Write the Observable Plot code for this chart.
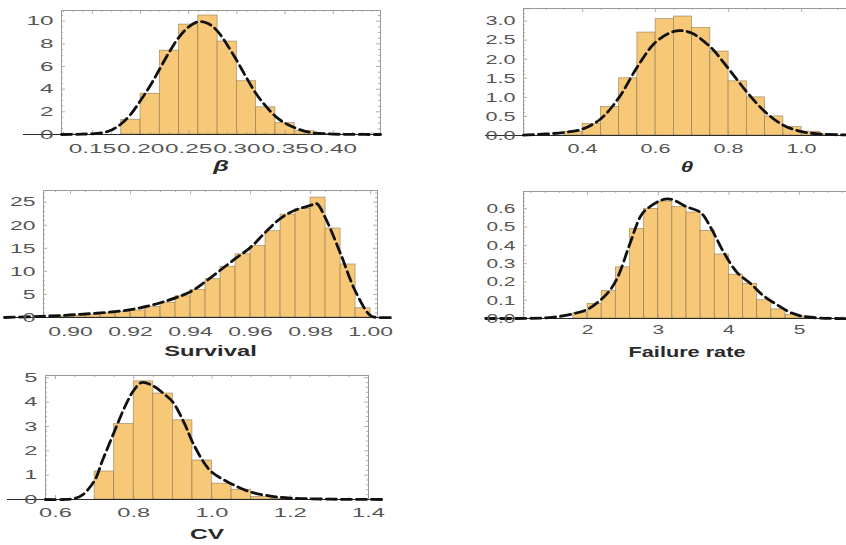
<!DOCTYPE html>
<html><head><meta charset="utf-8">
<script src="https://cdn.jsdelivr.net/npm/d3@7"></script>
<script src="https://cdn.jsdelivr.net/npm/@observablehq/plot@0.6"></script>
<style>
html,body{margin:0;padding:0;background:#fff;overflow:hidden;width:846px;height:545px}
#chart{position:relative;width:846px;height:545px;overflow:hidden}
.panel{position:absolute}
.panel svg{max-width:none!important;overflow:visible}
</style></head><body><div id="chart"></div>
<script>
// ---------- β ----------
const betaBinStart = [0.18,0.20,0.22,0.24,0.26,0.28,0.30,0.32,0.34,0.36,0.38];
const betaDensity  = [1.3,3.6,7.4,9.7,10.5,8.2,4.7,2.4,1.0,0.3,0.05];
const betaBinWidth = 0.02;
const betaCurveX = [0.118,0.14,0.16,0.17,0.18,0.19,0.20,0.21,0.22,0.23,0.24,0.25,0.26,0.27,0.28,0.29,0.30,0.31,0.32,0.33,0.34,0.35,0.36,0.37,0.38,0.40,0.42,0.449];
const betaCurveY = [0.0,0.03,0.15,0.4,0.95,1.8,3.0,4.3,5.8,7.3,8.6,9.5,9.95,9.8,9.1,7.9,6.5,5.0,3.6,2.5,1.6,1.0,0.6,0.3,0.15,0.04,0.01,0.0];
const betaXTicks = [0.15,0.20,0.25,0.30,0.35,0.40];
const betaYTicks = [0,2,4,6,8,10];

// ---------- θ ----------
const thetaBinStart = [0.35,0.40,0.45,0.50,0.55,0.60,0.65,0.70,0.75,0.80,0.85,0.90,0.95,1.00,1.05];
const thetaDensity  = [0.1,0.3,0.75,1.5,2.7,3.05,3.12,2.82,2.2,1.42,1.0,0.5,0.22,0.1,0.03];
const thetaBinWidth = 0.05;
const thetaCurveX = [0.238,0.30,0.35,0.40,0.45,0.50,0.55,0.60,0.65,0.67,0.70,0.75,0.80,0.85,0.90,0.95,1.00,1.05,1.14];
const thetaCurveY = [0.01,0.04,0.08,0.17,0.44,1.0,1.8,2.45,2.73,2.75,2.68,2.32,1.75,1.14,0.62,0.27,0.1,0.04,0.01];
const thetaXTicks = [0.4,0.6,0.8,1.0];
const thetaYTicks = [0,0.5,1.0,1.5,2.0,2.5,3.0];

// ---------- Survival ----------
const survBinStart = [0.895,0.900,0.905,0.910,0.915,0.920,0.925,0.930,0.935,0.940,0.945,0.950,0.955,0.960,0.965,0.970,0.975,0.980,0.985,0.990,0.995];
const survDensity  = [0.2,0.3,0.5,0.9,1.2,1.5,2.3,3.2,4.6,6.0,8.3,11.0,13.7,15.5,18.7,22.3,23.5,26.0,19.3,11.5,2.0];
const survBinWidth = 0.005;
const survCurveX = [0.878,0.89,0.90,0.91,0.92,0.93,0.94,0.945,0.95,0.955,0.96,0.965,0.97,0.975,0.98,0.982,0.985,0.99,0.995,1.0,1.003,1.008];
const survCurveY = [0.0,0.25,0.55,1.0,1.7,3.2,5.6,7.8,10.3,12.8,15.2,18.5,21.5,23.3,24.3,24.7,21.5,13.8,5.6,0.4,0.0,0.0];
const survXTicks = [0.90,0.92,0.94,0.96,0.98,1.00];
const survYTicks = [0,5,10,15,20,25];

// ---------- Failure rate ----------
const failBinStart = [1.8,2.0,2.2,2.4,2.6,2.8,3.0,3.2,3.4,3.6,3.8,4.0,4.2,4.4,4.6,4.8,5.0];
const failDensity  = [0.03,0.08,0.15,0.28,0.49,0.60,0.64,0.61,0.58,0.48,0.35,0.24,0.19,0.10,0.05,0.02,0.01];
const failBinWidth = 0.2;
const failCurveX = [0.56,1.2,1.5,1.81,2.0,2.18,2.3,2.42,2.6,2.75,2.84,3.13,3.41,3.6,3.74,3.93,4.12,4.31,4.49,4.66,4.87,5.01,5.3,5.72];
const failCurveY = [0.0,0.001,0.006,0.027,0.05,0.1,0.146,0.22,0.41,0.56,0.6,0.655,0.61,0.58,0.5,0.36,0.25,0.19,0.124,0.08,0.033,0.015,0.002,0.0];
const failXTicks = [2,3,4,5];
const failYTicks = [0,0.1,0.2,0.3,0.4,0.5,0.6];

// ---------- CV ----------
const cvBinStart = [0.70,0.75,0.80,0.85,0.90,0.95,1.00,1.05,1.10,1.15];
const cvDensity  = [1.15,3.1,4.85,4.35,3.25,1.6,0.65,0.4,0.1,0.03];
const cvBinWidth = 0.05;
const cvCurveX = [0.574,0.62,0.65,0.67,0.70,0.72,0.75,0.78,0.80,0.82,0.85,0.88,0.90,0.93,0.95,0.98,1.0,1.05,1.1,1.15,1.2,1.3,1.44];
const cvCurveY = [0.0,0.0,0.05,0.2,0.78,1.6,2.77,3.9,4.48,4.8,4.66,4.3,4.0,3.1,2.36,1.5,1.12,0.64,0.3,0.14,0.06,0.015,0.0];
const cvXTicks = [0.6,0.8,1.0,1.2,1.4];
const cvYTicks = [0,1,2,3,4,5];

// ---------- styling ----------
const barFill = "#f6c877";
const barStroke = "#7d6a45";
const frameColor = "#9a9a9a";

function stepRange(domain, step) {
  const a = Math.ceil(domain[0] / step - 1e-9), b = Math.floor(domain[1] / step + 1e-9);
  return d3.range(a, b + 1).map(k => +(k * step).toFixed(6));
}

const panels = [
  {binStart: betaBinStart, density: betaDensity, binWidth: betaBinWidth, curveX: betaCurveX, curveY: betaCurveY,
   xTicks: betaXTicks, yTicks: betaYTicks, xMinor: 0.01, yMinor: 0.5, xDomain: [0.118, 0.449], yDomain: [0, 10.94],
   xFormat: d3.format(".2f"), yFormat: d3.format("d"), label: "β", italic: true, stretch: 1.8,
   left: 0, top: 0, width: 400, height: 180, mL: 61, mR: 20, mT: 10, mB: 46, xPad: 9, labelDy: 36},
  {binStart: thetaBinStart, density: thetaDensity, binWidth: thetaBinWidth, curveX: thetaCurveX, curveY: thetaCurveY,
   xTicks: thetaXTicks, yTicks: thetaYTicks, xMinor: 0.05, yMinor: 0.1, xDomain: [0.238, 1.134], yDomain: [0, 3.33],
   xFormat: d3.format(".1f"), yFormat: d3.format(".1f"), label: "θ", italic: true, stretch: 1.6,
   left: 460, top: 0, width: 390, height: 180, mL: 63, mR: 0, mT: 8, mB: 45, xPad: 7.5, labelDy: 36},
  {binStart: survBinStart, density: survDensity, binWidth: survBinWidth, curveX: survCurveX, curveY: survCurveY,
   xTicks: survXTicks, yTicks: survYTicks, xMinor: 0.005, yMinor: 1, xDomain: [0.891, 1.0023], yDomain: [0, 27.53],
   xFormat: d3.format(".2f"), yFormat: d3.format("d"), label: "Survival", italic: false, stretch: 1.7,
   left: 0, top: 182, width: 400, height: 180, mL: 43, mR: 23, mT: 8, mB: 45, xPad: 8.5, labelDy: 38},
  {binStart: failBinStart, density: failDensity, binWidth: failBinWidth, curveX: failCurveX, curveY: failCurveY,
   xTicks: failXTicks, yTicks: failYTicks, xMinor: 0.2, yMinor: 0.02, xDomain: [1.094, 5.72], yDomain: [0, 0.695],
   xFormat: d3.format("d"), yFormat: d3.format(".1f"), label: "Failure rate", italic: false, stretch: 1.55,
   left: 460, top: 182, width: 390, height: 180, mL: 63, mR: 0, mT: 9, mB: 44, xPad: 6, labelDy: 38},
  {binStart: cvBinStart, density: cvDensity, binWidth: cvBinWidth, curveX: cvCurveX, curveY: cvCurveY,
   xTicks: cvXTicks, yTicks: cvYTicks, xMinor: 0.05, yMinor: 0.2, xDomain: [0.5744, 1.4], yDomain: [0, 5.09],
   xFormat: d3.format(".1f"), yFormat: d3.format("d"), label: "CV", italic: false, stretch: 1.75,
   left: 0, top: 362, width: 400, height: 183, mL: 45, mR: 32, mT: 13, mB: 46, xPad: 7.5, labelDy: 39}
];

function stretchText(svg, sx) {
  svg.querySelectorAll("text").forEach(t => {
    const tr = t.getAttribute("transform");
    if (tr != null) {
      t.setAttribute("transform", tr + ` scale(${sx},1)`);
    } else {
      const x = +(t.getAttribute("x") || 0), y = +(t.getAttribute("y") || 0);
      t.removeAttribute("x"); t.removeAttribute("y");
      t.setAttribute("transform", `translate(${x},${y}) scale(${sx},1)`);
    }
  });
}

const chart = document.getElementById("chart");
for (const p of panels) {
  const fw = p.width - p.mL - p.mR, fh = p.height - p.mT - p.mB;
  const bins = p.binStart.map((x, i) => ({x1: x, x2: x + p.binWidth, y: p.density[i]}));
  const curve = p.curveX.map((x, i) => ({x, y: p.curveY[i]}));
  const near = (arr, v) => arr.some(t => Math.abs(t - v) < 1e-7);
  const xMaj = p.xTicks.filter(v => v >= p.xDomain[0] && v <= p.xDomain[1]);
  const xMin = stepRange(p.xDomain, p.xMinor).filter(v => !near(p.xTicks, v));
  const yMaj = p.yTicks;
  const yMin = stepRange(p.yDomain, p.yMinor).filter(v => !near(p.yTicks, v) && v > 0);
  const tk = {stroke: frameColor, strokeWidth: 0.8};
  const svg = Plot.plot({
    width: p.width, height: p.height,
    marginLeft: p.mL, marginRight: p.mR, marginTop: p.mT, marginBottom: p.mB,
    x: {domain: p.xDomain, axis: null},
    y: {domain: p.yDomain, axis: null},
    style: {fontFamily: "'Liberation Sans', Arial, sans-serif", fontSize: "13.5px", color: "#555555", background: "transparent", overflow: "visible"},
    marks: [
      Plot.rectY(bins, {x1: "x1", x2: "x2", y: "y", fill: barFill, stroke: barStroke, strokeWidth: 0.7, strokeOpacity: 0.7}),
      Plot.tickX(xMaj, {x: d => d, insetTop: fh - 4, ...tk}),
      Plot.tickX(xMaj, {x: d => d, insetBottom: fh - 4, ...tk}),
      Plot.tickX(xMin, {x: d => d, insetTop: fh - 2, ...tk}),
      Plot.tickX(xMin, {x: d => d, insetBottom: fh - 2, ...tk}),
      Plot.tickY(yMaj, {y: d => d, insetRight: fw - 4, ...tk}),
      Plot.tickY(yMaj, {y: d => d, insetLeft: fw - 4, ...tk}),
      Plot.tickY(yMin, {y: d => d, insetRight: fw - 2, ...tk}),
      Plot.tickY(yMin, {y: d => d, insetLeft: fw - 2, ...tk}),
      Plot.frame({stroke: frameColor, strokeWidth: 1}),
      Plot.ruleY([0], {stroke: "#2a2a2a", strokeWidth: 1.1, insetLeft: -38, insetRight: -2}),
      Plot.line(curve, {x: "x", y: "y", curve: "catmull-rom", stroke: "#111", strokeWidth: 2.8, strokeDasharray: "10,5"}),
      Plot.axisX(p.xTicks, {tickSize: 0, tickPadding: p.xPad, tickFormat: p.xFormat, label: null}),
      Plot.axisY(p.yTicks, {tickSize: 0, tickPadding: 8, tickFormat: p.yFormat, label: null}),
      Plot.text([p.label], {text: d => d, frameAnchor: "bottom", dy: p.labelDy, fontWeight: "bold",
        fontStyle: p.italic ? "italic" : "normal", fontSize: 14, fill: "#2a2a2a"})
    ]
  });
  stretchText(svg, p.stretch);
  const div = document.createElement("div");
  div.className = "panel";
  div.style.left = p.left + "px";
  div.style.top = p.top + "px";
  div.style.width = p.width + "px";
  div.style.height = p.height + "px";
  div.appendChild(svg);
  chart.appendChild(div);
}
</script></body></html>
